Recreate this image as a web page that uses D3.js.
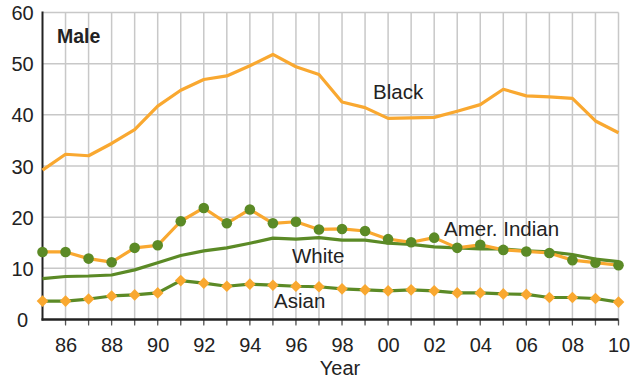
<!DOCTYPE html>
<html><head><meta charset="utf-8">
<script src="https://cdn.jsdelivr.net/npm/d3@7"></script>
<style>body{margin:0;background:#fff}svg{display:block;font-family:"Liberation Sans",Arial,sans-serif}</style>
</head><body><svg id="c" width="634" height="382"></svg>
<script>
const years = d3.range(1985, 2011);
const black = [29.2,32.3,32.0,34.4,37.1,41.7,44.8,46.9,47.6,49.6,51.8,49.4,47.9,42.5,41.4,39.3,39.4,39.5,40.7,42.0,45.0,43.7,43.5,43.2,38.8,36.5];
const amerIndian = [13.2,13.2,11.9,11.2,14.0,14.5,19.2,21.8,18.8,21.5,18.8,19.1,17.6,17.7,17.3,15.7,15.1,16.0,14.0,14.6,13.6,13.3,13.0,11.6,11.1,10.6];
const white = [8.0,8.4,8.5,8.7,9.7,11.1,12.5,13.4,14.0,14.9,15.9,15.7,16.0,15.5,15.5,14.9,14.7,14.2,14.0,13.8,13.8,13.4,13.2,12.7,11.8,11.3];
const asian = [3.6,3.6,4.0,4.6,4.8,5.2,7.6,7.1,6.5,6.9,6.7,6.5,6.4,6.0,5.8,5.6,5.8,5.6,5.2,5.2,5.0,4.9,4.3,4.3,4.1,3.4];
const yTicks = [0,10,20,30,40,50,60];
const xTickYears = [1986,1988,1990,1992,1994,1996,1998,2000,2002,2004,2006,2008,2010];

const ORANGE = "#f9a830", GREEN = "#5b8a26";
const FONT = "Liberation Sans, Arial, sans-serif";
const svg = d3.select("#c");
const x = d3.scaleLinear().domain([1985, 2010]).range([42.5, 618.5]);
const y = d3.scaleLinear().domain([0, 60]).range([319.5, 12.5]);

// grid
svg.append("g").selectAll("line").data(years.slice(1)).join("line")
  .attr("x1", d => x(d)).attr("x2", d => x(d)).attr("y1", y(60)).attr("y2", y(0) + 5)
  .attr("stroke", "#c8c8c8").attr("stroke-width", 1.5);
svg.append("g").selectAll("line").data(yTicks.slice(1)).join("line")
  .attr("x1", x(1985)).attr("x2", x(2010)).attr("y1", d => y(d)).attr("y2", d => y(d))
  .attr("stroke", "#c8c8c8").attr("stroke-width", 1.5);

// axes
const yAxis = d3.axisLeft(y).tickValues(yTicks).tickSize(0).tickPadding(0).tickFormat(d3.format("d"));
const gy = svg.append("g").attr("transform", `translate(${x(1985)},0)`).call(yAxis);
gy.select(".domain").remove();
gy.selectAll("text").attr("font-size", 20).attr("fill", "#222").attr("font-family", FONT)
  .attr("text-anchor", "middle").attr("x", -20).attr("dy", "0.35em");

const xAxis = d3.axisBottom(x).tickValues(xTickYears).tickSize(0).tickPadding(18)
  .tickFormat(d => String(d % 100).padStart(2, "0"));
const gx = svg.append("g").attr("transform", `translate(0,${y(0)})`).call(xAxis);
gx.select(".domain").remove();
gx.selectAll("text").attr("font-size", 20).attr("fill", "#222").attr("font-family", FONT);

svg.append("g").selectAll("line").data(years.slice(1)).join("line")
  .attr("x1", d => x(d)).attr("x2", d => x(d)).attr("y1", y(0)).attr("y2", y(0) + 6)
  .attr("stroke", "#555").attr("stroke-width", 1.2);

svg.append("line").attr("x1", x(1985)).attr("x2", x(1985)).attr("y1", y(60) - 1).attr("y2", y(0) + 1)
  .attr("stroke", "#222").attr("stroke-width", 2);
svg.append("line").attr("x1", x(1985) - 1).attr("x2", x(2010)).attr("y1", y(0)).attr("y2", y(0))
  .attr("stroke", "#222").attr("stroke-width", 2.5);

const line = d3.line().x((d, i) => x(years[i])).y(d => y(d));
function drawLine(data, color) {
  svg.append("path").datum(data).attr("d", line).attr("fill", "none")
    .attr("stroke", color).attr("stroke-width", 3.2).attr("stroke-linejoin", "round");
}
drawLine(black, ORANGE);
drawLine(white, GREEN);
drawLine(amerIndian, ORANGE);
drawLine(asian, GREEN);

svg.append("g").selectAll("circle").data(amerIndian).join("circle")
  .attr("cx", (d, i) => x(years[i])).attr("cy", d => y(d)).attr("r", 5.3).attr("fill", GREEN);
svg.append("g").selectAll("path").data(asian).join("path")
  .attr("d", d3.symbol().type(d3.symbolSquare).size(68))
  .attr("transform", (d, i) => `translate(${x(years[i])},${y(d)}) rotate(45)`)
  .attr("fill", ORANGE);

// labels
const lab = (t, px, py, opts = {}) => svg.append("text").attr("x", px).attr("y", py)
  .attr("font-size", opts.size || 20.5).attr("font-weight", opts.bold ? "bold" : "normal")
  .attr("text-anchor", opts.anchor || "start").attr("fill", "#222").text(t);
lab("Male", 57, 43, {bold: true, size: 19.5});
lab("Black", 373, 99);
lab("Amer. Indian", 444, 236);
lab("White", 292, 263);
lab("Asian", 274, 308);
lab("Year", 340, 375, {anchor: "middle", size: 20});
</script></body></html>
